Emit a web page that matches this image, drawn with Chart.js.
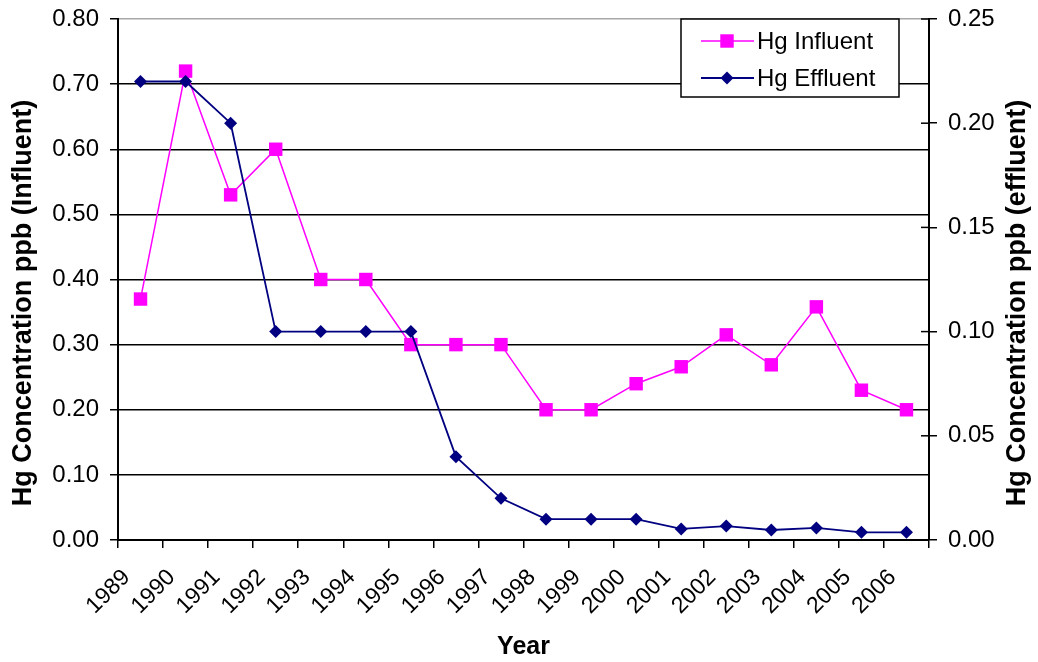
<!DOCTYPE html>
<html>
<head>
<meta charset="utf-8">
<script src="https://cdn.jsdelivr.net/npm/chart.js@4.4.1/dist/chart.umd.min.js"></script>
<style>
  html, body { margin: 0; padding: 0; background: #fff; }
  #wrap { width: 1038px; height: 662px; }
</style>
</head>
<body>
<div id="wrap"><canvas id="hgChart"></canvas></div>
<script>
const years = ['1989', '1990', '1991', '1992', '1993', '1994', '1995', '1996', '1997',
               '1998', '1999', '2000', '2001', '2002', '2003', '2004', '2005', '2006'];
// left axis (ppb)
const influent = [0.37, 0.72, 0.53, 0.60, 0.40, 0.40, 0.30, 0.30, 0.30,
                  0.20, 0.20, 0.24, 0.266, 0.315, 0.269, 0.358, 0.23, 0.20];
// right axis (ppb)
const effluent = [0.22, 0.22, 0.20, 0.10, 0.10, 0.10, 0.10, 0.04, 0.02,
                  0.01, 0.01, 0.01, 0.0053, 0.0067, 0.0048, 0.0058, 0.0037, 0.0037];

const titleLeft = 'Hg Concentration ppb (Influent)';
const titleRight = 'Hg Concentration ppb (effluent)';
const FONT = '"Liberation Sans", Arial, sans-serif';

Chart.defaults.font.family = FONT;
Chart.defaults.color = '#000';

function marker(ctx, style, x, y, r, color) {
    ctx.fillStyle = color;
    ctx.beginPath();
    if (style === 'rect') {
        const s = r * Math.SQRT1_2;
        ctx.rect(x - s, y - s, 2 * s, 2 * s);
    } else {
        ctx.moveTo(x, y - r);
        ctx.lineTo(x + r, y);
        ctx.lineTo(x, y + r);
        ctx.lineTo(x - r, y);
        ctx.closePath();
    }
    ctx.fill();
}

const extras = {
    id: 'hgExtras',
    afterDraw(chart) {
        const ctx = chart.ctx;
        const area = chart.chartArea;
        const y1 = chart.scales.y1;
        ctx.save();

        // inner half of the cross tick marks on the right axis
        ctx.strokeStyle = '#000';
        ctx.lineWidth = 1.5;
        y1.ticks.forEach(t => {
            const py = y1.getPixelForValue(t.value);
            ctx.beginPath();
            ctx.moveTo(area.right - 8, py);
            ctx.lineTo(area.right, py);
            ctx.stroke();
        });

        // both vertical titles read bottom to top
        ctx.font = 'bold 27px ' + FONT;
        ctx.fillStyle = '#000';
        ctx.textAlign = 'center';
        ctx.textBaseline = 'middle';
        [[24, titleLeft], [1018, titleRight]].forEach(([x, txt]) => {
            ctx.save();
            ctx.translate(x, 303);
            ctx.rotate(-Math.PI / 2);
            ctx.fillText(txt, 0, 0);
            ctx.restore();
        });

        // legend box inside the plot, top right
        const bx = 681, by = 19, bw = 218, bh = 78;
        ctx.fillStyle = '#fff';
        ctx.fillRect(bx, by, bw, bh);
        ctx.strokeStyle = '#000';
        ctx.lineWidth = 1.5;
        ctx.strokeRect(bx, by, bw, bh);

        ctx.font = '24px ' + FONT;
        ctx.textAlign = 'left';
        chart.data.datasets.forEach((ds, i) => {
            const ly = 41 + i * 37;
            ctx.strokeStyle = ds.borderColor;
            ctx.lineWidth = ds.borderWidth;
            ctx.beginPath();
            ctx.moveTo(701, ly);
            ctx.lineTo(754, ly);
            ctx.stroke();
            marker(ctx, ds.pointStyle, 727, ly, ds.pointRadius, ds.backgroundColor);
            ctx.fillStyle = '#000';
            ctx.fillText(ds.label, 757, ly + 1);
        });
        ctx.restore();
    }
};

new Chart(document.getElementById('hgChart'), {
    type: 'line',
    data: {
        labels: years,
        datasets: [{
            label: 'Hg Influent',
            data: influent,
            yAxisID: 'y',
            borderColor: '#FF00FF',
            backgroundColor: '#FF00FF',
            borderWidth: 1.5,
            pointStyle: 'rect',
            pointRadius: 9.5,
            pointBorderWidth: 0,
            tension: 0,
            clip: false,
            order: 1
        }, {
            label: 'Hg Effluent',
            data: effluent,
            yAxisID: 'y1',
            borderColor: '#000080',
            backgroundColor: '#000080',
            borderWidth: 1.8,
            pointStyle: 'rectRot',
            pointRadius: 6.5,
            pointBorderWidth: 0,
            tension: 0,
            clip: false,
            order: 0
        }]
    },
    options: {
        responsive: true,
        maintainAspectRatio: false,
        animation: false,
        devicePixelRatio: 1,
        layout: { padding: { top: 19, left: 0, right: 0, bottom: 0 } },
        plugins: {
            legend: { display: false },
            tooltip: { enabled: false }
        },
        scales: {
            x: {
                offset: true,
                grid: {
                    offset: true,
                    drawOnChartArea: false,
                    tickLength: 8,
                    color: '#000',
                    lineWidth: 1.5
                },
                border: { display: true, color: '#000', width: 2 },
                ticks: {
                    minRotation: 45,
                    maxRotation: 45,
                    autoSkip: false,
                    labelOffset: -14,
                    padding: 16,
                    font: { size: 23 }
                },
                title: {
                    display: true,
                    text: 'Year',
                    font: { size: 25, weight: 'bold' },
                    padding: { top: 0, bottom: 0 }
                },
                afterFit(scale) {
                    scale.height = 122;
                    scale.paddingLeft = 0;
                    scale.paddingRight = 0;
                }
            },
            y: {
                position: 'left',
                min: 0,
                max: 0.8,
                ticks: {
                    stepSize: 0.1,
                    padding: 11,
                    font: { size: 24 },
                    callback: v => v.toFixed(2)
                },
                grid: {
                    color: c => (c.tick && Math.abs(c.tick.value - 0.8) < 1e-6) ? '#a8a8a8' : '#000',
                    tickColor: '#000',
                    lineWidth: 1.5,
                    tickLength: 8
                },
                border: { display: true, color: '#000', width: 2 },
                afterFit(scale) {
                    scale.width = 118;
                    scale.paddingTop = 0;
                    scale.paddingBottom = 0;
                }
            },
            y1: {
                position: 'right',
                min: 0,
                max: 0.25,
                ticks: {
                    stepSize: 0.05,
                    padding: 11,
                    font: { size: 24 },
                    callback: v => v.toFixed(2)
                },
                grid: {
                    drawOnChartArea: false,
                    color: '#000',
                    lineWidth: 1.5,
                    tickLength: 8
                },
                border: { display: true, color: '#000', width: 2 },
                afterFit(scale) {
                    scale.width = 109;
                    scale.paddingTop = 0;
                    scale.paddingBottom = 0;
                }
            }
        }
    },
    plugins: [extras]
});
</script>
</body>
</html>
